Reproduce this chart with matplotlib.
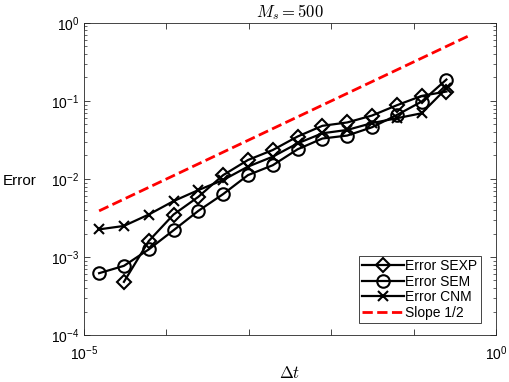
import matplotlib
matplotlib.use("Agg")
import matplotlib.pyplot as plt
from matplotlib.ticker import LogLocator, NullLocator, FixedLocator, FixedFormatter

plt.rcParams["font.family"] = ["Liberation Sans", "DejaVu Sans"]
plt.rcParams["mathtext.fontset"] = "custom"
plt.rcParams["mathtext.rm"] = "Liberation Sans"
plt.rcParams["mathtext.it"] = "Liberation Sans:italic"
plt.rcParams["mathtext.bf"] = "Liberation Sans:bold"

# time steps (dt = 2^-16 ... 2^-2)
dt = [2**-16, 2**-15, 2**-14, 2**-13, 2**-12, 2**-11, 2**-10, 2**-9,
      2**-8, 2**-7, 2**-6, 2**-5, 2**-4, 2**-3, 2**-2]

err_sexp = [4.8e-4, 1.6e-3, 3.5e-3, 5.9e-3, 1.12e-2, 1.75e-2, 2.35e-2,
            3.5e-2, 4.8e-2, 5.3e-2, 6.5e-2, 8.8e-2, 0.116, 0.132]
err_sem = [6.2e-4, 7.7e-4, 1.25e-3, 2.2e-3, 3.9e-3, 6.4e-3, 1.12e-2, 1.5e-2,
           2.4e-2, 3.3e-2, 3.6e-2, 4.6e-2, 6.6e-2, 0.098, 0.188]
err_cnm = [2.26e-3, 2.5e-3, 3.5e-3, 5.2e-3, 7.2e-3, 9.7e-3, 1.44e-2, 1.93e-2,
           2.86e-2, 3.85e-2, 4.25e-2, 5.2e-2, 6.0e-2, 6.95e-2, 0.145]

slope_dt = [2**-16, 2**-1]
slope_err = [3.9e-3, 0.707]

fig = plt.figure(figsize=(5.09, 3.82), dpi=100)
ax = fig.add_axes([0.165, 0.123, 0.8095, 0.817])

kw = dict(color="black", linewidth=1.6, markeredgewidth=1.5,
          markerfacecolor="none")
ax.loglog(dt[1:], err_sexp, marker="D", markersize=7.5, label="Error SEXP", **kw)
ax.loglog(dt, err_sem, marker="o", markersize=9, label="Error SEM", **kw)
ax.loglog(dt, err_cnm, marker="x", markersize=7, label="Error CNM", **kw)
ax.loglog(slope_dt, slope_err, "--", color="red", linewidth=2.0,
          label="Slope 1/2")

ax.set_xlim(1e-5, 1e0)
ax.set_ylim(1e-4, 1e0)

xt = [1e-5, 1e-4, 1e-3, 1e-2, 1e-1, 1e0]
ax.xaxis.set_major_locator(FixedLocator(xt))
ax.xaxis.set_major_formatter(FixedFormatter([r"$10^{-5}$", "", "", "", "", r"$10^{0}$"]))
ax.xaxis.set_minor_locator(NullLocator())
yt = [1e-4, 1e-3, 1e-2, 1e-1, 1e0]
ax.yaxis.set_major_locator(FixedLocator(yt))
ax.yaxis.set_major_formatter(FixedFormatter([r"$10^{-4}$", r"$10^{-3}$", r"$10^{-2}$",
                                             r"$10^{-1}$", r"$10^{0}$"]))
ax.yaxis.set_minor_locator(LogLocator(base=10, subs=range(2, 10), numticks=20))

ax.tick_params(which="both", direction="in", top=True, right=True,
               colors="#262626", labelcolor="black", labelsize=10)
ax.tick_params(which="major", length=4, width=0.6)
ax.tick_params(which="minor", length=2.5, width=0.5)
ax.tick_params(axis="x", pad=7)
for s in ax.spines.values():
    s.set_color("#262626")
    s.set_linewidth(0.6)

ax.set_title(r"$M_s = 500$", math_fontfamily="cm", fontsize=12, pad=4)
ax.set_xlabel(r"$\Delta t$", math_fontfamily="cm", fontsize=12)
ax.xaxis.set_label_coords(0.5, -0.095)
ax.set_ylabel("Error", fontsize=11, rotation=0)
ax.yaxis.set_label_coords(-0.155, 0.47)

leg = ax.legend(loc="lower right", bbox_to_anchor=(0.9636, 0.0385),
                borderaxespad=0, fontsize=10, handlelength=3.0,
                handletextpad=0.1, labelspacing=0.1, borderpad=0.25,
                fancybox=False, framealpha=1, edgecolor="#262626")
leg.get_frame().set_linewidth(0.6)

fig.savefig("out.png", dpi=100)
